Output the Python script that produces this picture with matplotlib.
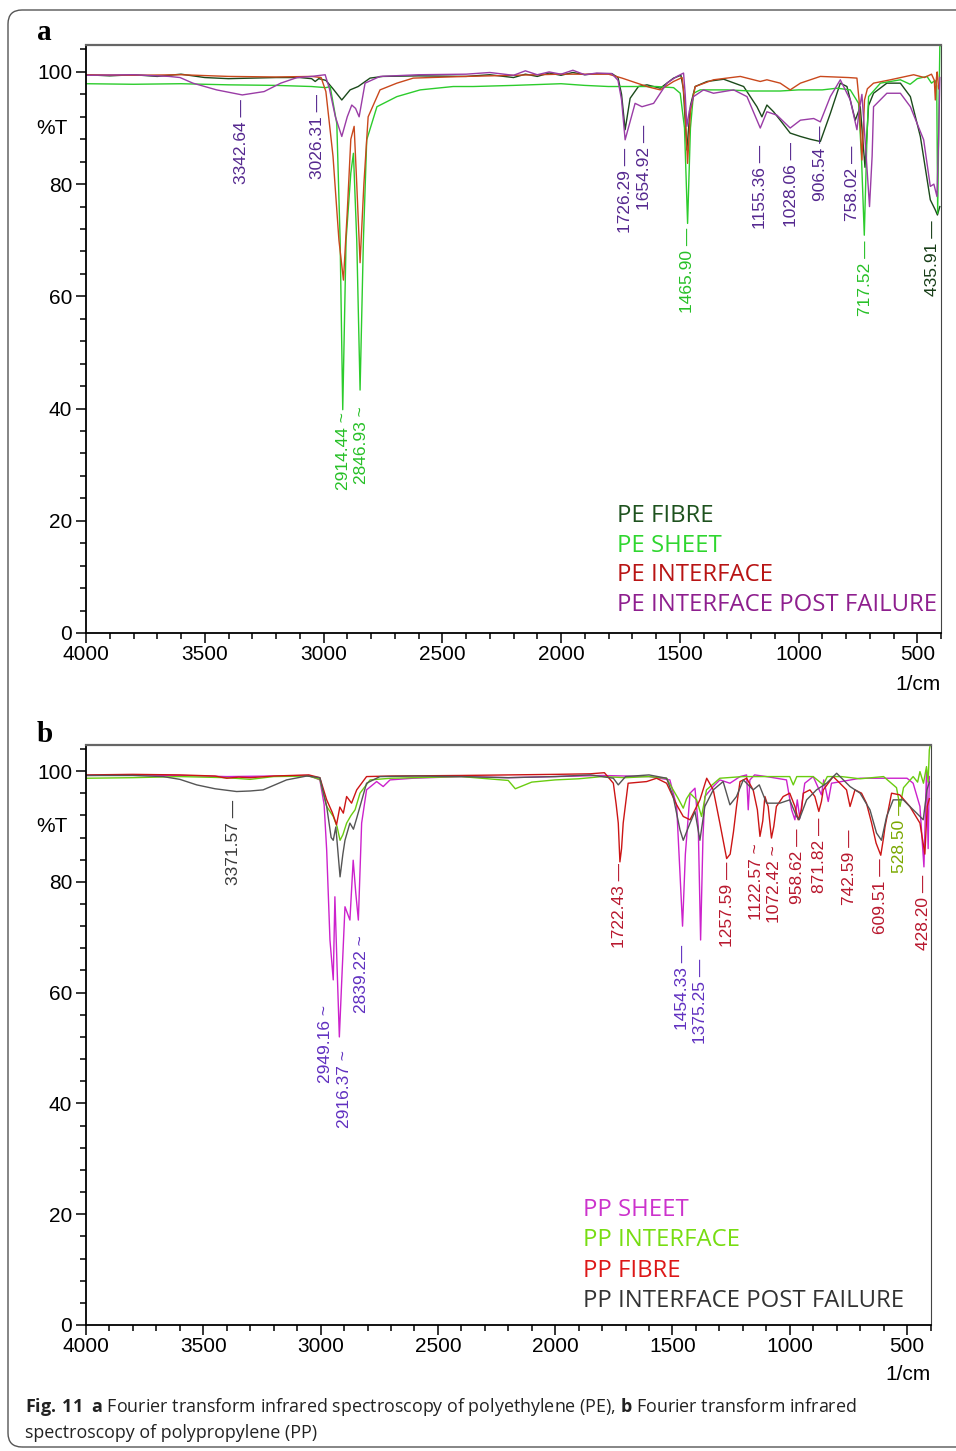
import matplotlib
matplotlib.use('Agg')
import matplotlib.pyplot as plt
from matplotlib.patches import FancyBboxPatch
from matplotlib.transforms import IdentityTransform
from matplotlib.ticker import MultipleLocator

plt.rcParams['font.family'] = ['Liberation Sans', 'DejaVu Sans']
plt.rcParams['mathtext.fontset'] = 'custom'
plt.rcParams['mathtext.rm'] = 'Open Sans'
plt.rcParams['mathtext.bf'] = 'Open Sans:bold'

# ---------------- panel a : polyethylene ----------------
pe_fibre_wn = [4000, 3900, 3800, 3700, 3600, 3500, 3400, 3300, 3200, 3100, 3050, 3035, 3020, 2990, 2960,
               2923, 2888, 2854, 2804, 2750, 2600, 2400, 2300, 2200, 2150, 2100, 2050, 2000, 1950, 1900,
               1850, 1786, 1760, 1745, 1730, 1709, 1674, 1638, 1582, 1526, 1495, 1485, 1470, 1455, 1435,
               1385, 1315, 1231, 1175, 1154, 1133, 1105, 1077, 1035, 992, 950, 908, 866, 824, 796, 761,
               740, 720, 705, 684, 628, 571, 529, 487, 445, 424, 415, 405]
pe_fibre_t = [99.5, 99.3, 99.5, 99.2, 99.6, 99.0, 98.8, 98.9, 99.0, 99.0, 98.8, 98.3, 98.8, 98.5, 97.0,
              95.0, 96.8, 97.4, 98.9, 99.2, 99.3, 99.2, 99.5, 99.0, 99.6, 99.2, 99.8, 99.4, 99.9, 99.5,
              99.7, 99.7, 99.0, 96.0, 89.7, 95.3, 97.4, 97.7, 97.1, 98.9, 99.4, 97.0, 86.1, 94.0, 97.4,
              98.3, 98.7, 97.4, 93.8, 92.0, 94.1, 92.9, 91.4, 89.1, 88.5, 88.0, 87.6, 92.6, 98.0, 97.4, 91.4,
              93.8, 83.0, 94.0, 96.2, 98.0, 98.0, 95.6, 88.5, 77.2, 75.4, 74.5, 76.0]

pe_sheet_wn = [4000, 3800, 3600, 3400, 3200, 3050, 2990, 2972, 2944, 2930, 2919, 2905, 2885, 2874, 2860,
               2846, 2832, 2818, 2775, 2691, 2593, 2454, 2370, 2200, 2000, 1900, 1800, 1600, 1526, 1498,
               1480, 1467, 1455, 1442, 1414, 1300, 1200, 1077, 1000, 900, 838, 782, 747, 735, 723, 712,
               705, 655, 571, 530, 500, 459, 440, 425, 418, 414, 408, 405, 402]
pe_sheet_t = [97.9, 97.8, 97.9, 97.7, 97.6, 97.4, 97.2, 97.4, 90.8, 70.0, 39.8, 70.0, 82.0, 85.5, 70.0,
              43.3, 70.0, 87.9, 93.8, 95.6, 96.8, 97.4, 97.4, 97.6, 97.9, 97.6, 97.4, 97.4, 97.2, 96.2,
              90.0, 73.0, 90.0, 96.2, 96.8, 96.8, 96.6, 96.6, 96.8, 96.8, 97.1, 96.8, 94.4, 85.0, 70.9, 88.0,
              95.6, 98.0, 98.6, 97.8, 98.8, 99.2, 98.0, 98.5, 97.5, 74.8, 95.0, 104.5, 104.8]

pe_interface_wn = [4000, 3800, 3600, 3400, 3200, 3050, 3010, 2990, 2960, 2935, 2916, 2900, 2885, 2871,
                   2860, 2846, 2830, 2812, 2762, 2691, 2622, 2400, 2200, 2000, 1800, 1743, 1680, 1630,
                   1582, 1526, 1490, 1480, 1467, 1455, 1435, 1358, 1245, 1161, 1133, 1077, 1035, 992,
                   908, 790, 754, 745, 733, 722, 710, 684, 613, 515, 470, 440, 428, 424, 419, 416, 410]
pe_interface_t = [99.5, 99.4, 99.5, 99.2, 99.1, 99.2, 99.0, 96.5, 85.0, 70.0, 62.9, 75.0, 88.0, 90.3,
                  80.0, 66.0, 80.0, 92.0, 96.8, 98.0, 98.9, 99.2, 99.4, 99.6, 99.6, 98.9, 98.0, 97.3,
                  96.8, 98.3, 99.0, 95.0, 83.7, 93.0, 97.4, 98.6, 99.2, 98.3, 98.6, 98.0, 96.8, 98.0,
                  99.2, 99.0, 98.9, 95.0, 84.3, 95.0, 97.0, 98.0, 98.6, 99.5, 99.0, 99.6, 98.5, 95.0,
                  99.0, 100.0, 97.0]

pe_post_wn = [4000, 3800, 3650, 3604, 3550, 3450, 3342, 3250, 3180, 3111, 3050, 2993, 2975, 2950, 2923,
              2900, 2881, 2865, 2850, 2825, 2762, 2600, 2400, 2300, 2200, 2150, 2100, 2050, 2000, 1950,
              1900, 1850, 1786, 1760, 1745, 1730, 1710, 1688, 1659, 1610, 1554, 1512, 1484, 1477, 1470,
              1460, 1442, 1400, 1358, 1273, 1217, 1161, 1133, 1091, 1035, 992, 936, 908, 866, 824, 782,
              754, 745, 733, 715, 701, 690, 684, 628, 571, 529, 473, 445, 430, 417, 410, 405]
pe_post_t = [99.4, 99.5, 99.2, 99.0, 98.0, 96.8, 95.9, 96.5, 98.0, 99.0, 99.2, 99.5, 97.0, 92.0, 88.5,
             92.0, 94.1, 93.5, 92.0, 98.0, 99.2, 99.5, 99.6, 99.9, 99.4, 100.2, 99.5, 100.0, 99.6, 100.3,
             99.5, 99.8, 99.7, 98.5, 95.0, 87.9, 91.0, 94.4, 93.8, 94.4, 98.0, 99.2, 99.8, 96.0, 90.3,
             93.0, 95.6, 96.8, 96.2, 96.8, 95.6, 90.0, 92.9, 92.3, 90.0, 91.4, 91.7, 91.1, 95.6, 98.6, 95.0,
             89.7, 93.0, 96.0, 85.0, 76.0, 85.0, 93.8, 96.2, 96.2, 93.8, 87.9, 79.6, 80.0, 77.8, 88.0, 99.0]

pe_names = ['PE FIBRE', 'PE SHEET', 'PE INTERFACE', 'PE INTERFACE POST FAILURE']
pe_peak_labels = ['3342.64', '3026.31', '2914.44', '2846.93', '1726.29', '1654.92', '1465.90',
                  '1155.36', '1028.06', '906.54', '758.02', '717.52', '435.91']
pe_peak_x = [3347, 3026, 2914, 2840, 1730, 1650, 1466, 1160, 1028, 906, 772, 717, 436]
pe_peak_tops = [95.2, 96.0, 39.3, 40.4, 86.5, 90.5, 72.2, 87.0, 87.5, 90.5, 86.8, 70.0, 73.6]
pe_peak_series = [3, 3, 1, 1, 3, 3, 1, 3, 3, 3, 3, 1, 0]

# ---------------- panel b : polypropylene ----------------
pp_sheet_wn = [4000, 3800, 3600, 3400, 3200, 3050, 3003, 2985, 2974, 2960, 2946, 2939, 2930, 2920, 2910,
               2896, 2875, 2861, 2850, 2839, 2825, 2804, 2761, 2733, 2704, 2606, 2400, 2200, 2000, 1800,
               1600, 1511, 1482, 1468, 1457, 1445, 1425, 1404, 1390, 1380, 1370, 1362, 1326, 1298, 1255,
               1212, 1184, 1177, 1170, 1150, 1099, 1014, 992, 978, 968, 957, 936, 900, 865, 855, 836, 822,
               780, 700, 600, 500, 474, 445, 428, 417, 410, 405]
pp_sheet_t = [99.2, 99.3, 99.2, 99.0, 99.1, 99.2, 98.4, 94.0, 85.7, 69.5, 62.3, 77.3, 65.0, 52.0, 62.0,
              75.5, 73.1, 83.9, 78.0, 73.1, 90.6, 96.6, 98.1, 97.2, 98.4, 98.7, 99.0, 98.8, 99.0, 99.2,
              99.0, 98.4, 93.6, 81.6, 72.0, 85.0, 96.0, 96.9, 90.0, 69.5, 88.0, 95.4, 97.2, 98.4, 97.8,
              99.0, 99.3, 93.0, 98.4, 99.3, 99.0, 98.4, 93.0, 91.2, 94.8, 91.5, 97.8, 99.0, 95.7, 98.4, 94.5,
              97.8, 98.1, 98.7, 98.7, 98.7, 97.8, 93.6, 82.7, 100.2, 86.0, 99.0]

pp_interface_wn = [4000, 3800, 3600, 3400, 3300, 3200, 3050, 3003, 2974, 2946, 2930, 2917, 2905, 2889,
                   2870, 2853, 2832, 2789, 2700, 2500, 2400, 2200, 2170, 2100, 2000, 1900, 1800, 1700,
                   1600, 1525, 1497, 1475, 1454, 1440, 1425, 1397, 1376, 1355, 1298, 1200, 1100, 1000,
                   985, 970, 900, 857, 840, 780, 700, 600, 545, 530, 515, 474, 455, 445, 430, 417, 410,
                   405, 402]
pp_interface_t = [98.7, 98.8, 99.0, 98.8, 98.5, 99.0, 99.1, 98.5, 93.6, 91.8, 90.0, 87.5, 88.5, 90.6,
                  92.0, 93.0, 96.0, 98.4, 98.7, 98.9, 99.0, 98.3, 96.8, 98.0, 98.4, 98.6, 99.0, 98.8,
                  99.0, 98.7, 96.6, 95.0, 93.3, 95.0, 96.0, 94.8, 91.8, 96.6, 98.7, 99.0, 99.0, 99.0,
                  97.5, 99.0, 99.0, 97.5, 99.0, 99.0, 98.6, 99.0, 97.0, 93.6, 97.0, 99.0, 98.0, 99.9,
                  97.8, 100.8, 98.0, 103.8, 104.5]

pp_fibre_wn = [4000, 3800, 3600, 3450, 3400, 3350, 3300, 3200, 3050, 3003, 2990, 2974, 2950, 2932, 2918,
               2903, 2889, 2868, 2846, 2804, 2700, 2400, 2200, 2000, 1850, 1790, 1752, 1740, 1731, 1724,
               1717, 1710, 1689, 1610, 1568, 1525, 1482, 1454, 1425, 1404, 1383, 1354, 1326, 1298, 1269,
               1254, 1240, 1227, 1212, 1184, 1156, 1138, 1127, 1115, 1106, 1092, 1078, 1068, 1057, 1028,
               1000, 978, 964, 950, 942, 914, 893, 876, 865, 857, 815, 786, 758, 743, 722, 694, 673, 651,
               632, 612, 600, 594, 566, 531, 488, 445, 424, 414, 405]
pp_fibre_t = [99.3, 99.4, 99.3, 99.1, 98.7, 98.9, 98.8, 99.1, 99.3, 98.8, 97.0, 94.8, 92.5, 90.3, 93.5,
              92.4, 95.4, 94.2, 96.6, 99.0, 99.1, 99.2, 99.3, 99.4, 99.5, 99.7, 97.8, 94.0, 90.6, 83.6,
              86.0, 90.6, 97.8, 98.1, 98.7, 97.8, 93.9, 91.8, 91.2, 93.0, 94.8, 98.7, 96.6, 90.6, 84.2,
              85.0, 89.0, 93.6, 98.1, 98.7, 96.6, 93.0, 88.2, 91.0, 95.4, 93.6, 87.9, 90.0, 93.6, 95.4,
              96.0, 93.6, 91.2, 93.0, 96.0, 96.6, 95.4, 92.7, 94.5, 96.6, 99.0, 97.8, 96.6, 93.6, 96.6,
              96.0, 94.2, 90.6, 87.0, 84.8, 88.0, 89.9, 96.0, 95.7, 93.6, 90.6, 85.0, 93.6, 95.0]

pp_post_wn = [4000, 3800, 3672, 3600, 3528, 3450, 3358, 3300, 3245, 3145, 3059, 3003, 2974, 2955, 2946,
              2935, 2917, 2905, 2896, 2875, 2860, 2846, 2832, 2804, 2747, 2600, 2400, 2200, 2000, 1850,
              1752, 1731, 1700, 1600, 1525, 1497, 1468, 1454, 1425, 1404, 1383, 1362, 1326, 1284, 1255,
              1227, 1198, 1156, 1130, 1099, 1042, 1000, 971, 960, 928, 886, 843, 800, 743, 700, 658, 630,
              609, 587, 559, 516, 488, 459, 431, 415, 405]
pp_post_t = [99.2, 99.2, 99.0, 98.5, 97.5, 96.8, 96.3, 96.4, 96.6, 98.4, 99.1, 98.8, 93.6, 88.0, 87.5,
             89.9, 80.9, 85.0, 87.5, 90.6, 89.5, 91.5, 93.6, 97.8, 99.0, 99.1, 99.0, 98.8, 99.0, 99.3,
             98.7, 97.5, 99.0, 99.3, 98.7, 95.4, 89.4, 87.5, 90.6, 92.7, 87.5, 93.6, 96.6, 98.1, 93.9,
             95.4, 98.4, 96.6, 97.5, 94.2, 94.2, 94.8, 91.8, 91.2, 94.8, 96.6, 97.8, 99.6, 97.2, 96.0,
             93.0, 88.8, 87.5, 91.8, 94.8, 94.8, 93.6, 92.4, 91.2, 96.6, 98.0]

pp_names = ['PP SHEET', 'PP INTERFACE', 'PP FIBRE', 'PP INTERFACE POST FAILURE']
pp_peak_labels = ['3371.57', '2949.16', '2916.37', '2839.22', '1722.43', '1454.33', '1375.25',
                  '1257.59', '1122.57', '1072.42', '958.62', '871.82', '742.59', '609.51', '528.50',
                  '428.20']
pp_peak_x = [3371, 2981, 2900, 2824, 1724, 1458, 1381, 1267, 1140, 1063, 968, 872, 744, 612, 532, 428]
pp_peak_tops = [94.8, 57.8, 49.6, 70.4, 83.4, 68.6, 66.2, 83.6, 87.0, 86.6, 89.7, 91.5, 89.4, 84.3,
                95.3, 81.2]
pp_peak_series = [3, 0, 0, 0, 2, 0, 0, 2, 2, 2, 2, 2, 2, 2, 1, 2]
wavy = ['2914.44', '2846.93', '2949.16', '2916.37', '2839.22', '1122.57', '1072.42']

# colours
pe_line_colors = ['#1b4a1b', '#2ccc2c', '#c9481c', '#9a3ca6']
pe_text_colors = ['#1e521e', '#2fd62f', '#b81414', '#8e1f8e']
pe_peak_colors = ['#173d17', '#27c027', '#c9481c', '#55288f']
pp_line_colors = ['#cc22cc', '#6acc10', '#cc1515', '#555555']
pp_text_colors = ['#cc33cc', '#77dd11', '#dd1818', '#333333']
pp_peak_colors = ['#6030c0', '#7aa800', '#b8182e', '#3a3a3a']

fig = plt.figure(figsize=(9.56, 14.51), dpi=100)
W, H = 956, 1451

ax_a = fig.add_axes([86 / W, (H - 633) / H, 855 / W, 588 / H])
ax_b = fig.add_axes([86 / W, (H - 1325) / H, 844.5 / W, 580 / H])


def style_axes(ax, ytop):
    ax.set_xlim(4000, 400)
    ax.set_ylim(0, ytop)
    ax.xaxis.set_major_locator(MultipleLocator(500))
    ax.xaxis.set_minor_locator(MultipleLocator(100))
    ax.yaxis.set_major_locator(MultipleLocator(20))
    ax.yaxis.set_minor_locator(MultipleLocator(4))
    ax.tick_params(which='major', length=7, width=1.1, labelsize=15, pad=2)
    ax.tick_params(which='minor', length=4.5, width=1.1)
    ax.tick_params(axis='y', which='major', pad=3)
    ax.spines['left'].set_linewidth(1.3)
    ax.spines['bottom'].set_linewidth(1.3)
    ax.spines['top'].set_color('#666666')
    ax.spines['top'].set_linewidth(1.6)
    ax.spines['right'].set_color('#444444')
    ax.text(-0.04, 90, '%T', transform=ax.get_yaxis_transform(), fontsize=15,
            ha='center', va='center')


style_axes(ax_a, 104.8)
style_axes(ax_b, 104.7)

pe_series = [(pe_fibre_wn, pe_fibre_t), (pe_sheet_wn, pe_sheet_t),
             (pe_interface_wn, pe_interface_t), (pe_post_wn, pe_post_t)]
pp_series = [(pp_sheet_wn, pp_sheet_t), (pp_interface_wn, pp_interface_t),
             (pp_fibre_wn, pp_fibre_t), (pp_post_wn, pp_post_t)]

for (wn, t), c in zip(pe_series, pe_line_colors):
    ax_a.plot(wn, t, color=c, lw=1.0)
for (wn, t), c in zip(pp_series, pp_line_colors):
    ax_b.plot(wn, t, color=c, lw=1.0)


def peak_labels(ax, labels, xs, tops, series, colors):
    for lab, x, top, s in zip(labels, xs, tops, series):
        end = ' ~' if lab in wavy else ' \u2014'
        ax.text(x, top, lab + end, rotation=90, ha='center', va='top',
                fontsize=12.5, color=colors[s])


peak_labels(ax_a, pe_peak_labels, pe_peak_x, pe_peak_tops, pe_peak_series, pe_peak_colors)
peak_labels(ax_b, pp_peak_labels, pp_peak_x, pp_peak_tops, pp_peak_series, pp_peak_colors)

# legend-like coloured labels
for i, (name, c) in enumerate(zip(pe_names, pe_text_colors)):
    ax_a.text(0.621, 0.199 - i * 0.0505, name, transform=ax_a.transAxes, color=c,
              fontsize=17.2, family='Open Sans', va='center', ha='left')
for i, (name, c) in enumerate(zip(pp_names, pp_text_colors)):
    ax_b.text(0.5885, 0.198 - i * 0.0522, name, transform=ax_b.transAxes, color=c,
              fontsize=17.2, family='Open Sans', va='center', ha='left')

ax_a.text(1.0, -51 / 588, '1/cm', transform=ax_a.transAxes, fontsize=15, ha='right', va='center')
ax_b.text(1.0, -49 / 580, '1/cm', transform=ax_b.transAxes, fontsize=15, ha='right', va='center')

fig.text(44 / W, 1 - 33 / H, 'a', fontsize=21, fontweight='bold', family='Liberation Serif',
         ha='center', va='center')
fig.text(45 / W, 1 - 735 / H, 'b', fontsize=21, fontweight='bold', family='Liberation Serif',
         ha='center', va='center')

fig.text(25 / W, 1 - 1407 / H,
         r'$\mathbf{Fig.\,11}$  $\mathbf{a}$ Fourier transform infrared spectroscopy of polyethylene (PE), '
         r'$\mathbf{b}$ Fourier transform infrared',
         fontsize=12.9, family='Open Sans', color='#222222', va='center', ha='left')
fig.text(25 / W, 1 - 1433 / H, 'spectroscopy of polypropylene (PP)',
         fontsize=12.9, family='Open Sans', color='#222222', va='center', ha='left')

fig.patches.append(FancyBboxPatch((8, 4), 1000, 1437, boxstyle='round,pad=0,rounding_size=14',
                                  transform=IdentityTransform(), fill=False, ec='#555555', lw=1.0))

fig.savefig('out.png', dpi=100)
